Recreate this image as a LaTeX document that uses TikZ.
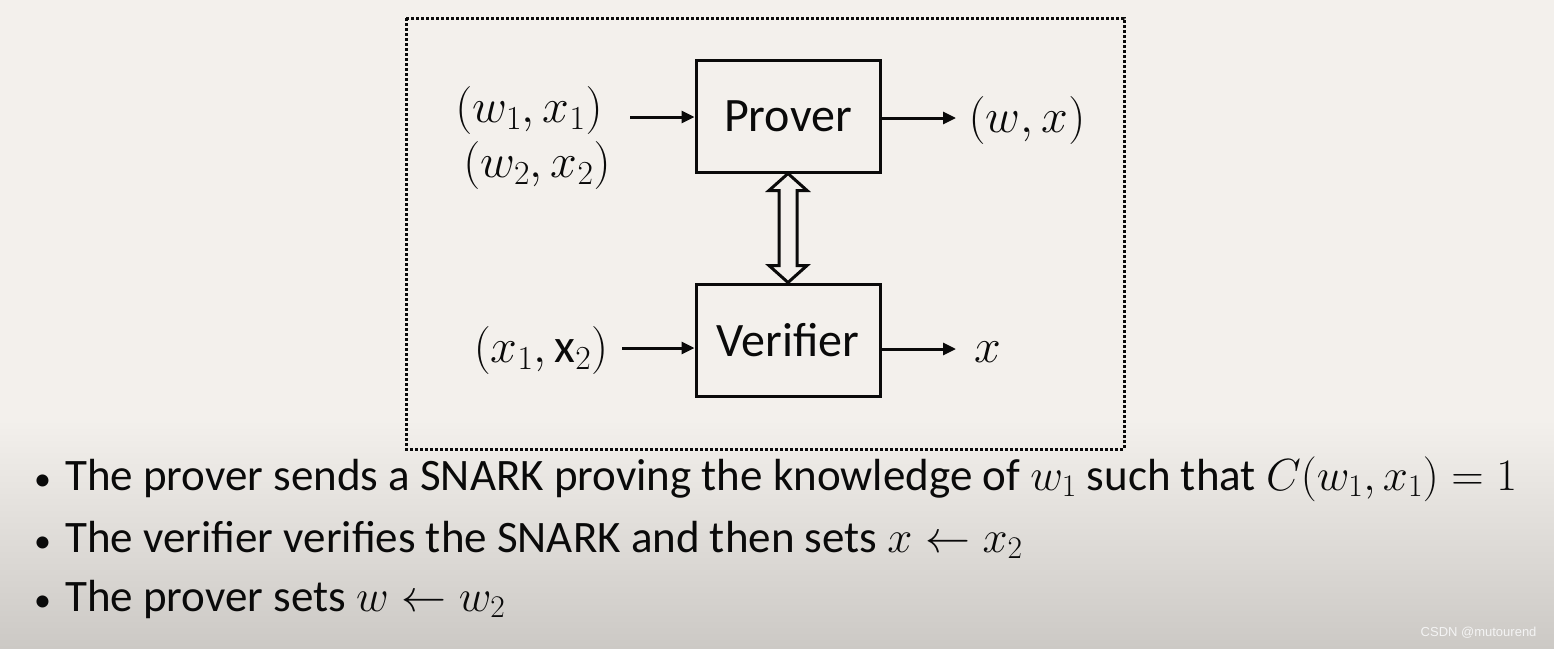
\RequirePackage{fix-cm}
\documentclass[tikz,border=0pt]{standalone}
\usepackage{fontspec}
\setmainfont{Carlito}
\newfontfamily\markfont{Liberation Sans}
\usetikzlibrary{arrows.meta,positioning,calc}
\definecolor{SlideBg}{HTML}{F3F0EC}
\definecolor{SlideLow}{HTML}{CCC9C5}
\definecolor{SlideInk}{HTML}{0A0A0A}
\definecolor{MarkGray}{HTML}{F4F4F4}
\tikzset{
  flow/.style={-{Triangle[length=13pt,width=12pt]},SlideInk,line width=3pt},
  swap/.style={draw=SlideInk,fill=SlideBg,line width=3pt,line join=miter},
  unit/.style={draw=SlideInk,line width=3pt,minimum width=184pt,minimum height=112pt,
               font=\fontsize{48}{56}\selectfont,text=SlideInk},
  frame/.style={SlideInk,line width=3pt,dotted},
  pair/.style={font=\fontsize{48}{54}\selectfont,text=SlideInk,inner sep=0pt},
  bullet/.style={font=\fontsize{45}{52}\selectfont,text=SlideInk,anchor=base west,inner sep=0pt},
  credittext/.style={font=\markfont\fontsize{13}{15}\selectfont,text=MarkGray,anchor=east},
}
\newcommand{\itemdot}{{\fontsize{34}{40}\selectfont\textbullet}\hspace{14pt}}
\begin{document}
\begin{tikzpicture}[x=1pt,y=-1pt]
    \useasboundingbox (0,0) rectangle (1554,648);
    \fill[SlideBg] (0,0) rectangle (1554,420);
    \shade[top color=SlideBg,bottom color=SlideLow] (0,420) rectangle (1554,648);

    \draw[frame] (406,18) rectangle (1124,449);

    \node[unit] (prover) at (788,116) {Prover};
    \node[unit] (verifier) at (788,340) {Verifier};

    \node[pair] (inone) at (529,110) {$(w_1,x_1)$};
    \node[pair] (intwo) at (537,165) {$(w_2,x_2)$};
    \node[pair] (pout) at (1027,120) {$(w,x)$};
    \node[pair] (vin) at (541,350) {$(x_1,\mathrm{x}_2)$};
    \node[pair] (vout) at (988,352) {$x$};

    \coordinate (pin) at (630,117);
    \coordinate (pend) at (956,118);
    \coordinate (vstart) at (622,348);
    \coordinate (vend) at (956,349);

    \draw[flow] (pin) -- (prover.west|-pin);
    \draw[flow] (prover.east|-pend) -- (pend);
    \draw[flow] (vstart) -- (verifier.west|-vstart);
    \draw[flow] (verifier.east|-vend) -- (vend);
    % hollow two-way arrow between the boxes
    \draw[swap] (prover.south) -- ++(19,17) -- ++(-10,0) -- ($(verifier.north)+(9,-17)$)
      -- ++(10,0) -- (verifier.north) -- ++(-19,-17) -- ++(10,0)
      -- ($(prover.south)+(-9,17)$) -- ++(-10,0) -- cycle;

    % bullet list under the frame
    \node[bullet] (bone) at (34,490) {\itemdot The prover sends a SNARK proving the knowledge of $w_1$ such that $C(w_1,x_1) = 1$};
    \node[bullet] (btwo) at (34,552) {\itemdot The verifier verifies the SNARK and then sets $x \leftarrow x_2$};
    \node[bullet] (bthree) at (34,611) {\itemdot The prover sets $w \leftarrow w_2$};

    \node[credittext] (credit) at (1540,633) {CSDN @mutourend};
  \end{tikzpicture}
\end{document}
